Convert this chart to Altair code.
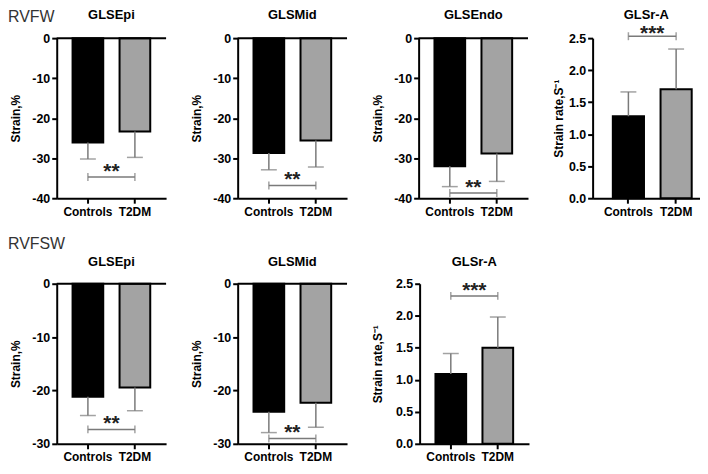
import altair as alt
import pandas as pd

# ---------------- data ----------------
groups = ["Controls", "T2DM"]
bar_colors = ["#000000", "#a3a3a3"]

row_labels = ["RVFW", "RVFSW"]

top_titles = ["GLSEpi", "GLSMid", "GLSEndo", "GLSr-A"]
top_kinds = ["strain", "strain", "strain", "rate"]
top_means = [[-26.1, -23.3], [-28.7, -25.6], [-32.0, -28.8], [1.28, 1.70]]
top_sds = [[4.1, 6.5], [4.2, 6.6], [5.1, 7.0], [0.38, 0.63]]
top_sig_y = [-34.7, -36.8, -38.7, 2.53]
top_sig = ["**", "**", "**", "***"]

bot_titles = ["GLSEpi", "GLSMid", "GLSr-A"]
bot_kinds = ["strain", "strain", "rate"]
bot_means = [[-21.2, -19.45], [-24.0, -22.3], [1.09, 1.50]]
bot_sds = [[3.5, 4.35], [3.9, 4.6], [0.32, 0.48]]
bot_sig_y = [-27.3, -29.0, 2.31]
bot_sig = ["**", "**", "***"]

strain_ticks_top = [0, -10, -20, -30, -40]
strain_ticks_bot = [0, -10, -20, -30]
rate_ticks = [0.0, 0.5, 1.0, 1.5, 2.0, 2.5]

strain_title = "Strain,%"
rate_title = "Strain rate,S⁻¹"

# ---------------- style ----------------
FONT = "Liberation Sans"
H = 161
ERR = "#7a7a7a"


def panel(title, kind, means, sds, sig_y, sig, ticks, width, title_pad,
          p_outer=0.337, align=0.5, row_label=None, row_label_y=None, title_y=-19,
          star_dy=1):
    sign = -1 if kind == "strain" else 1
    df = pd.DataFrame({"group": groups, "mean": means,
                       "err": [m + sign * s for m, s in zip(means, sds)]})
    dfb = pd.DataFrame({"g1": [groups[0]], "g2": [groups[1]], "y": [sig_y], "s": [sig]})
    dfe = pd.DataFrame({"group": groups, "y": [sig_y, sig_y]})
    dft = pd.DataFrame({"t": [title]})

    if kind == "strain":
        domain = [min(ticks), 0]
        ytitle = strain_title
        lab = "datum.value == 0 ? '0' : '-' + abs(datum.value)"
    else:
        domain = [0, max(ticks)]
        ytitle = rate_title
        lab = "format(datum.value, '.1f')"

    p_inner = 0.347
    step = width / (2 - p_inner + 2 * p_outer)

    xscale = alt.Scale(domain=groups, paddingInner=p_inner, paddingOuter=p_outer, align=align)
    yscale = alt.Scale(domain=domain, nice=False)
    xaxis = alt.Axis(title=None, labelAngle=0, labelFont=FONT, labelFontSize=12,
                     labelFontWeight="bold", labelColor="black", labelPadding=3,
                     tickColor="black", tickWidth=2, tickSize=5,
                     domainColor="black", domainWidth=2)
    yaxis = alt.Axis(values=ticks, labelExpr=lab, title=ytitle, grid=False,
                     labelFont=FONT, labelFontSize=12.5, labelFontWeight="bold",
                     labelColor="black", labelPadding=2,
                     tickColor="black", tickWidth=2, tickSize=5,
                     domainColor="black", domainWidth=2,
                     titleFont=FONT, titleFontSize=12, titleFontWeight="bold",
                     titleColor="black", titlePadding=title_pad,
                     minExtent=24, maxExtent=24)

    def X(f):
        return alt.X(f, type="nominal", scale=xscale, axis=xaxis, sort=groups)

    def Y(f):
        return alt.Y(f, type="quantitative", scale=yscale, axis=yaxis)

    layers = []
    layers.append(alt.Chart(df).mark_bar(stroke="black", strokeWidth=2).encode(
        x=X("group"), y=Y("mean"),
        color=alt.Color("group:N", scale=alt.Scale(domain=groups, range=bar_colors), legend=None)))
    layers.append(alt.Chart(df).mark_rule(color=ERR, strokeWidth=1.5).encode(
        x=X("group"), y=Y("mean"), y2="err"))
    layers.append(alt.Chart(df).mark_tick(color=ERR, thickness=1.5, size=16).encode(
        x=X("group"), y=Y("err")))
    if kind == "strain":
        layers.append(alt.Chart(dft).mark_rule(color="black", strokeWidth=2).encode(
            y=alt.datum(0)))
    layers.append(alt.Chart(dfb).mark_rule(color=ERR, strokeWidth=1.5).encode(
        x=X("g1"), x2="g2", y=Y("y")))
    layers.append(alt.Chart(dfe).mark_tick(color=ERR, thickness=1.5, size=8, orient="vertical").encode(
        x=X("group"), y=Y("y")))
    layers.append(alt.Chart(dfb).mark_text(font=FONT, fontSize=21, fontWeight="bold",
                                           baseline="alphabetic", align="center",
                                           dx=step / 2, dy=star_dy, color="#222222").encode(
        x=X("g1"), y=Y("y"), text="s:N"))
    layers.append(alt.Chart(dft).mark_text(font=FONT, fontSize=13, fontWeight="bold",
                                           baseline="alphabetic", align="center",
                                           color="black").encode(
        x=alt.value(width / 2), y=alt.value(title_y), text="t:N"))
    if row_label is not None:
        layers.append(alt.Chart(pd.DataFrame({"t": [row_label]})).mark_text(
            font=FONT, fontSize=16, align="left", baseline="alphabetic", color="#333333").encode(
            x=alt.value(-49), y=alt.value(row_label_y), text="t:N"))
    return alt.layer(*layers).properties(width=width, height=H)


top_panels = []
for i in range(4):
    kind = top_kinds[i]
    ticks = strain_ticks_top if kind == "strain" else rate_ticks
    if i == 3:
        top_panels.append(panel(top_titles[i], kind, top_means[i], top_sds[i], top_sig_y[i],
                                top_sig[i], ticks, 108, 3, p_outer=0.2985, align=0.709,
                                star_dy=4))
    else:
        top_panels.append(panel(top_titles[i], kind, top_means[i], top_sds[i], top_sig_y[i],
                                top_sig[i], ticks, 110, 10,
                                row_label=row_labels[0] if i == 0 else None, row_label_y=-16))

bot_panels = []
for i in range(3):
    kind = bot_kinds[i]
    ticks = strain_ticks_bot if kind == "strain" else rate_ticks
    bot_panels.append(panel(bot_titles[i], kind, bot_means[i], bot_sds[i], bot_sig_y[i],
                            bot_sig[i], ticks, 110, 10 if kind == "strain" else 11,
                            row_label=row_labels[1] if i == 0 else None, row_label_y=-35,
                            title_y=-18))

row1 = alt.hconcat(*top_panels, spacing=24)
row2 = alt.hconcat(*bot_panels, spacing=24)

chart = alt.vconcat(row1, row2, spacing=19).properties(
    padding=0, background="white"
).configure_view(stroke=None)

chart.save("out.html", embed_options={"renderer": "svg", "actions": False})
